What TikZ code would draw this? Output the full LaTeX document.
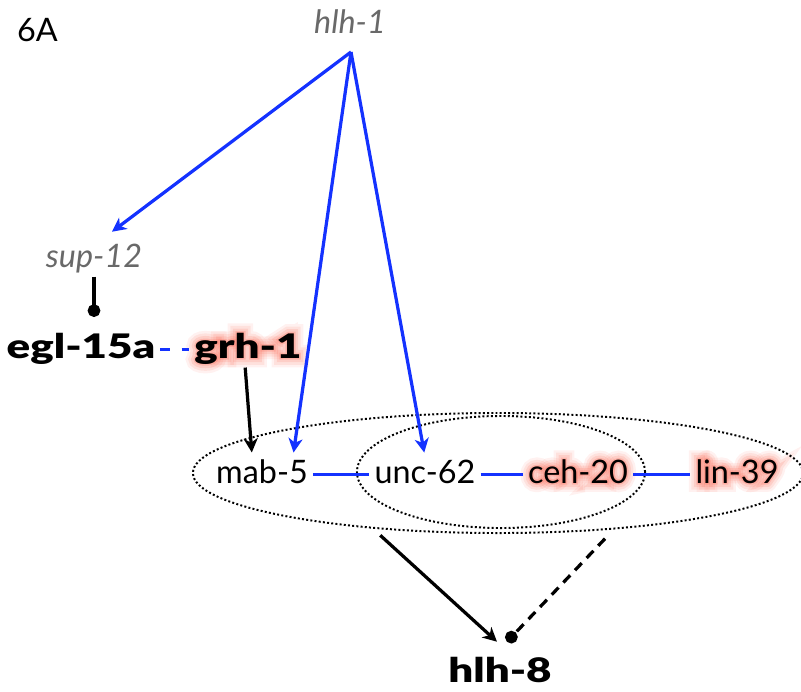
\documentclass[tikz,border=0pt]{standalone}
\usepackage{fontspec}
\setmainfont{Lato}
\newfontface\heavy{Lato Black}[FakeStretch=1.3]
\usetikzlibrary{arrows.meta,calc,shapes.geometric,backgrounds}
\definecolor{netblue}{RGB}{20,50,255}
\definecolor{upgray}{RGB}{105,105,105}
\definecolor{halo}{RGB}{250,105,85}
\tikzset{
  gene/.style={anchor=base, inner ysep=2pt, inner xsep=3.5pt, text height=16.5pt, text depth=4.6pt,
    font=\fontsize{23}{26}\selectfont},
  key gene/.style={gene, font=\fontsize{24}{26}\heavy},
  up gene/.style={gene, text=upgray, font=\fontsize{23}{26}\selectfont\itshape},
  act/.style={-{Stealth[length=10pt,width=10pt,inset=3pt]}, line width=2.3pt},
  inh/.style={-{Circle[length=9pt]}, line width=2.3pt},
  link/.style={netblue, line width=2.6pt},
  group/.style={draw, ellipse, line width=1.4pt, dash pattern=on 1.4pt off 1.6pt, inner sep=0pt}
}
\begin{document}
\begin{tikzpicture}[x=0.025cm, y=-0.025cm]
  \useasboundingbox (0,0) rectangle (801,691);

  \node[gene, anchor=base west] (panel) at (12,41)  {6A};
  \node[up gene]  (hlh1)   at (350,33)  {hlh-1};
  \node[up gene]  (sup12)  at (94,267)  {sup-12};
  \node[key gene] (egl15a) at (81,358)  {egl-15a};
  \node[key gene] (grh1)   at (248,358) {grh-1};
  \node[gene]     (mab5)   at (262,483) {mab-5};
  \node[gene]     (unc62)  at (425,483) {unc-62};
  \node[gene]     (ceh20)  at (578,483) {ceh-20};
  \node[gene]     (lin39)  at (737,483) {lin-39};
  \node[key gene] (hlh8)   at (500,682) {hlh-8};

  \node[group, minimum width=15.25cm, minimum height=3cm]  (hox)  at (498,473) {};
  \node[group, minimum width=7.2cm,   minimum height=2.8cm] (core) at (501,472) {};

  \coordinate (hub) at (351,52);

  % red halo behind the highlighted genes
  \begin{scope}[on background layer]
    \foreach \n/\t/\f in {grh1/grh-1/\fontsize{24}{26}\heavy,
                          ceh20/ceh-20/\fontsize{23}{26}\selectfont,
                          lin39/lin-39/\fontsize{23}{26}\selectfont}
      \foreach \w/\o in {55/0.09, 40/0.12, 25/0.16, 10/0.25}
        \node[gene, text=halo, opacity=\o, font=\f\addfontfeatures{FakeBold=\w}]
          at (\n.base) {\t};
  \end{scope}

  \draw[act, netblue] (hub) -- ($(sup12.north)+(18,-9)$);
  \draw[act, netblue, shorten >=3pt] (hub) -- ([xshift=22pt]mab5.north);
  \draw[act, netblue, shorten >=3pt] (hub) -- (unc62.north);

  \draw[inh, shorten >=10.5pt] (sup12.south) -- (sup12.south |- egl15a.north);
  \draw[link, dash pattern=on 7pt off 8pt] (egl15a) -- (grh1);
  \draw[act, shorten >=3pt] ([xshift=-2pt]grh1.south) -- ([xshift=-7pt]mab5.north);

  \draw[link] (mab5) -- (unc62);
  \draw[link] (unc62) -- (ceh20);
  \draw[link] (ceh20) -- (lin39);

  \draw[act, shorten <=7pt] (hox.204) -- ($(hlh8.north)+(-3,-14)$);
  \draw[inh, dash pattern=on 7pt off 5pt, shorten <=9pt] (hox.-26) -- ($(hlh8.north)+(7,-14)$);
\end{tikzpicture}
\end{document}
